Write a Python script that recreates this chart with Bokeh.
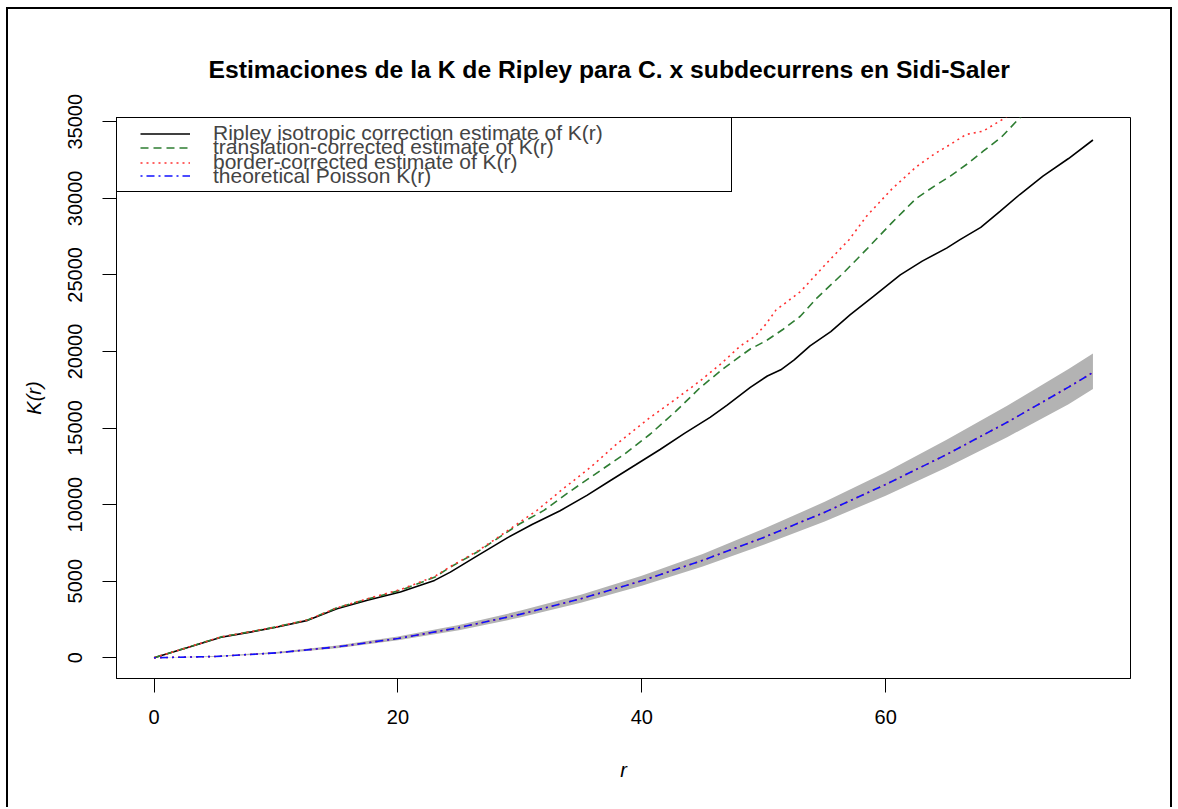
from bokeh.plotting import figure
from bokeh.models import Range1d, FixedTicker, Legend, LegendItem, Title
from bokeh.embed import file_html
from bokeh.resources import INLINE

# ---- data ----
r_iso = [0, 2.5, 5.5, 8, 10, 12.6, 15, 17.5, 20.2, 23, 24.3, 26.5, 29, 31, 33.3, 35.5, 37.4, 39.5,
         41.5, 43.5, 45.6, 47, 48.9, 50.3, 51.4, 52.5, 53.8, 55.5, 57.1, 59, 61.2, 63, 65, 66.1,
         67.8, 69.4, 71, 72.9, 75, 77]
K_iso = [0, 600, 1340, 1690, 1990, 2440, 3200, 3750, 4290, 5050, 5590, 6650, 7840, 8700, 9600, 10600,
         11560, 12600, 13600, 14650, 15700, 16500, 17650, 18400, 18800, 19450, 20370, 21300, 22400,
         23600, 25000, 25900, 26750, 27300, 28100, 29170, 30250, 31450, 32600, 33810]

r_trans = [0, 2.5, 5.5, 8, 10, 12.6, 15, 17.5, 20.2, 23, 24.3, 26.5, 28, 30, 31.97, 34, 36.6, 38.5,
           40.7, 42.8, 44.8, 46.8, 48.9, 50.2, 51.6, 53, 54.4, 56.5, 58.45, 60.5, 62.5, 64, 65.3,
           66.7, 68, 69.5, 71, 72.5]
K_trans = [0, 610, 1360, 1710, 2010, 2470, 3260, 3830, 4400, 5250, 5920, 6900, 7700, 8750, 9620,
           10800, 12220, 13250, 14610, 16100, 17650, 18950, 20160, 20700, 21450, 22300, 23520, 25100,
           26680, 28400, 29990, 30800, 31450, 32250, 33080, 34000, 35260, 36200]

r_bord = [0, 2.5, 5.5, 8, 10, 12.6, 15, 17.5, 20.2, 23, 24.3, 26.5, 28, 30, 31.4, 33.5, 35.8, 38,
          40.7, 42.8, 44.8, 46.5, 48.1, 49.3, 50.2, 51, 53, 55.2, 57, 58.45, 60.5, 62.5, 64, 65.3,
          66.6, 68, 69.8, 71.5]
K_bord = [0, 610, 1360, 1710, 2010, 2470, 3260, 3850, 4450, 5300, 5950, 6950, 7750, 8850, 9620,
          11000, 12440, 14000, 15700, 16900, 18090, 19200, 20370, 21000, 21800, 22700, 23900, 25800,
          27300, 28850, 30600, 32050, 32900, 33520, 34170, 34390, 35260, 36200]

r_theo = [0, 5, 10, 15, 20, 25, 30, 35, 40, 45, 50, 55, 60, 65, 70, 75, 77]
K_theo = [0, 80, 315, 705, 1255, 1965, 2830, 3850, 5025, 6360, 7855, 9500, 11310, 13270, 15390,
          17670, 18630]
K_lo = [0, 55, 265, 625, 1140, 1800, 2620, 3590, 4700, 5960, 7380, 8900, 10580, 12420, 14420,
        16560, 17550]
K_hi = [0, 115, 370, 800, 1390, 2140, 3060, 4120, 5350, 6780, 8420, 10180, 12120, 14230, 16470,
        18850, 19870]

x_ticks = [0, 20, 40, 60]
y_ticks = [0, 5000, 10000, 15000, 20000, 25000, 30000, 35000]

title_text = "Estimaciones de la K de Ripley para C. x subdecurrens en Sidi-Saler"
labels = ["Ripley isotropic correction estimate of K(r)",
          "translation-corrected estimate of K(r)",
          "border-corrected estimate of K(r)",
          "theoretical Poisson K(r)"]

FONT = "Liberation Sans"
FRAME_H = 561

p = figure(width=1166, height=800, output_backend="svg", toolbar_location=None,
           x_range=Range1d(-3.08, 80.08), y_range=Range1d(-1357, 35279),
           min_border_left=108, min_border_right=44, min_border_top=108, min_border_bottom=131)
p.styles = {"border-top": "2px solid black", "border-left": "2px solid black",
            "border-right": "2px solid black", "margin-left": "6px", "margin-top": "7px"}

p.title = Title(text=title_text, align="left", offset=92, text_font=FONT,
                text_font_size="24.7px", text_font_style="bold", text_color="black",
                standoff=69)

p.xgrid.visible = False
p.ygrid.visible = False
p.outline_line_color = "black"
p.outline_line_width = 1
p.background_fill_color = "white"
p.border_fill_color = "white"

# envelope
p.varea(x=r_theo, y1=K_lo, y2=K_hi, fill_color="#B3B3B3")

l_iso = p.line(r_iso, K_iso, line_color="black", line_width=1.6)
l_trans = p.line(r_trans, K_trans, line_color="#2E7D32", line_width=1.6, line_dash="8 5")
l_bord = p.line(r_bord, K_bord, line_color="#FF3030", line_width=1.6, line_dash="2 4")
p.line(r_theo, K_theo, line_color="#FF2020", line_width=1.6, line_dash="2 4")
l_theo = p.line(r_theo, K_theo, line_color="#1010FF", line_width=1.6, line_dash="2 4 8 4")

# legend frame (empty item only gives the bordered box)
dummy = p.line([], [], line_alpha=0)
box = Legend(items=[LegendItem(label="", renderers=[dummy])],
             location="top_left", margin=0, padding=2, spacing=0,
             glyph_width=72, glyph_height=69, label_height=69, label_standoff=23,
             label_width=515, label_text_font_size="1px",
             border_line_color="black", border_line_width=1, border_line_alpha=1,
             background_fill_color="white", background_fill_alpha=1)
p.add_layout(box)

# legend rows, tightly packed as in the R legend
row_centers = [16, 30, 45, 58.5]   # px below frame top
row_h = 24
for lab, rend, c in zip(labels, [l_iso, l_trans, l_bord, l_theo], row_centers):
    lg = Legend(items=[LegendItem(label=lab, renderers=[rend])],
                location=(24, FRAME_H - c - row_h / 2), margin=0, padding=0, spacing=0,
                glyph_width=50, glyph_height=15, label_height=15, label_standoff=23,
                label_text_font=FONT, label_text_font_size="21px",
                border_line_alpha=0, background_fill_alpha=0)
    p.add_layout(lg)

for ax in (p.xaxis[0], p.yaxis[0]):
    ax.axis_line_color = "black"
    ax.major_tick_line_color = "black"
    ax.minor_tick_line_color = None
    ax.major_tick_in = 0
    ax.major_tick_out = 14
    ax.major_label_text_font = FONT
    ax.major_label_text_font_size = "20px"
    ax.major_label_text_color = "black"
    ax.axis_label_text_font = FONT
    ax.axis_label_text_font_size = "20px"
    ax.axis_label_text_font_style = "italic"
    ax.axis_label_text_color = "black"

p.xaxis.ticker = FixedTicker(ticks=x_ticks)
p.yaxis.ticker = FixedTicker(ticks=y_ticks)
p.yaxis.major_label_orientation = "vertical"
p.xaxis.axis_label = "r"
p.yaxis.axis_label = "K(r)"
p.xaxis.major_label_standoff = 17
p.xaxis.axis_label_standoff = 32
p.yaxis.major_label_standoff = 20
p.yaxis.axis_label_standoff = 21

open("out.html", "w").write(file_html(p, INLINE))
